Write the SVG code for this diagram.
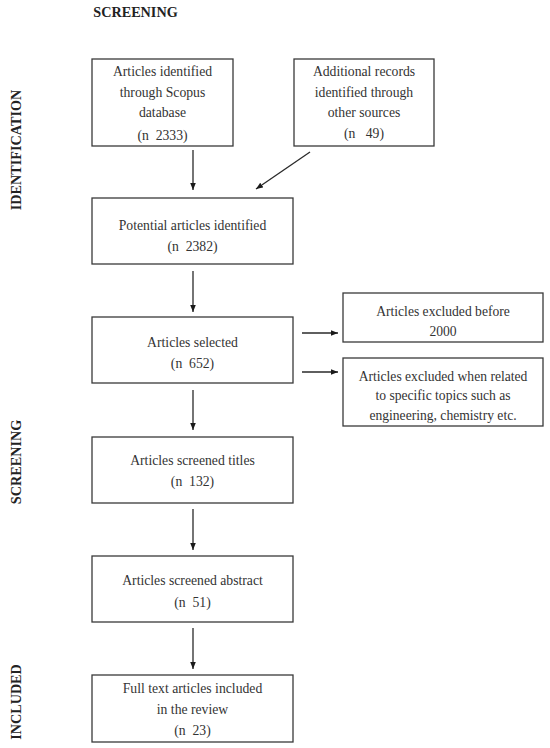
<svg xmlns="http://www.w3.org/2000/svg" width="550" height="748" viewBox="0 0 550 748">
<style>
.box{fill:#fff;stroke:#3a3a3a;stroke-width:1.3}
.t{font-family:"Liberation Serif",serif;font-size:13.7px;fill:#333;text-anchor:middle}
.t2{font-family:"Liberation Serif",serif;font-size:13.6px;fill:#333;text-anchor:middle}
.h{font-family:"Liberation Serif",serif;font-size:14.2px;font-weight:bold;fill:#222;text-anchor:middle}
.c{stroke:#2a2a2a;stroke-width:1.3;fill:none;marker-end:url(#ah)}
</style>
<defs>
<marker id="ah" viewBox="0 0 10 10" refX="10" refY="5" markerWidth="7" markerHeight="7" markerUnits="userSpaceOnUse" orient="auto">
<path d="M0,1 L10,5 L0,9 z" fill="#1a1a1a"/>
</marker>
</defs>
<rect width="550" height="748" fill="#fff"/>
<g id="labels">
<text class="h" x="135.5" y="17">SCREENING</text>
<text class="h" transform="translate(21,150) rotate(-90)">IDENTIFICATION</text>
<text class="h" transform="translate(21,462) rotate(-90)">SCREENING</text>
<text class="h" transform="translate(21,702) rotate(-90)">INCLUDED</text>
</g>
<g id="connectors">
<line class="c" x1="193" y1="150" x2="193" y2="190"/>
<line class="c" x1="310" y1="152" x2="256" y2="189"/>
<line class="c" x1="193" y1="271" x2="193" y2="312"/>
<line class="c" x1="302" y1="333" x2="338" y2="333"/>
<line class="c" x1="302" y1="372" x2="338" y2="372"/>
<line class="c" x1="193" y1="390" x2="193" y2="430"/>
<line class="c" x1="193" y1="509" x2="193" y2="550"/>
<line class="c" x1="193" y1="628" x2="193" y2="669"/>
</g>
<g id="scopus">
<rect class="box" x="92" y="59" width="141" height="87"/>
<text class="t" x="162.5" y="76">Articles identified</text>
<text class="t" x="162.5" y="97">through Scopus</text>
<text class="t" x="162.5" y="117">database</text>
<text class="t" x="162.5" y="140">(n&#160;&#160;2333)</text>
</g>
<g id="additional">
<rect class="box" x="294" y="59" width="140" height="87"/>
<text class="t" x="364" y="76">Additional records</text>
<text class="t" x="364" y="97">identified through</text>
<text class="t" x="364" y="117">other sources</text>
<text class="t" x="364" y="138">(n&#160;&#160;&#160;49)</text>
</g>
<g id="potential">
<rect class="box" x="92" y="198" width="201" height="66"/>
<text class="t" x="192.5" y="230">Potential articles identified</text>
<text class="t" x="192.5" y="251">(n&#160;&#160;2382)</text>
</g>
<g id="selected">
<rect class="box" x="92" y="317" width="201" height="66"/>
<text class="t" x="192.5" y="347">Articles selected</text>
<text class="t" x="192.5" y="368">(n&#160;&#160;652)</text>
</g>
<g id="excluded2000">
<rect class="box" x="343" y="293" width="200" height="49"/>
<text class="t2" x="443" y="316">Articles excluded before</text>
<text class="t2" x="443" y="336">2000</text>
</g>
<g id="excludedtopics">
<rect class="box" x="343" y="358" width="200" height="68"/>
<text class="t2" x="443" y="381">Articles excluded when related</text>
<text class="t2" x="443" y="400">to specific topics such as</text>
<text class="t2" x="443" y="420">engineering, chemistry etc.</text>
</g>
<g id="titles">
<rect class="box" x="92" y="437" width="201" height="66"/>
<text class="t" x="192.5" y="465">Articles screened titles</text>
<text class="t" x="192.5" y="486">(n&#160;&#160;132)</text>
</g>
<g id="abstract">
<rect class="box" x="92" y="556" width="201" height="66"/>
<text class="t" x="192.5" y="585">Articles screened abstract</text>
<text class="t" x="192.5" y="607">(n&#160;&#160;51)</text>
</g>
<g id="fulltext">
<rect class="box" x="92" y="675" width="201" height="67"/>
<text class="t" x="192.5" y="693">Full text articles included</text>
<text class="t" x="192.5" y="714">in the review</text>
<text class="t" x="192.5" y="735">(n&#160;&#160;23)</text>
</g>
</svg>
